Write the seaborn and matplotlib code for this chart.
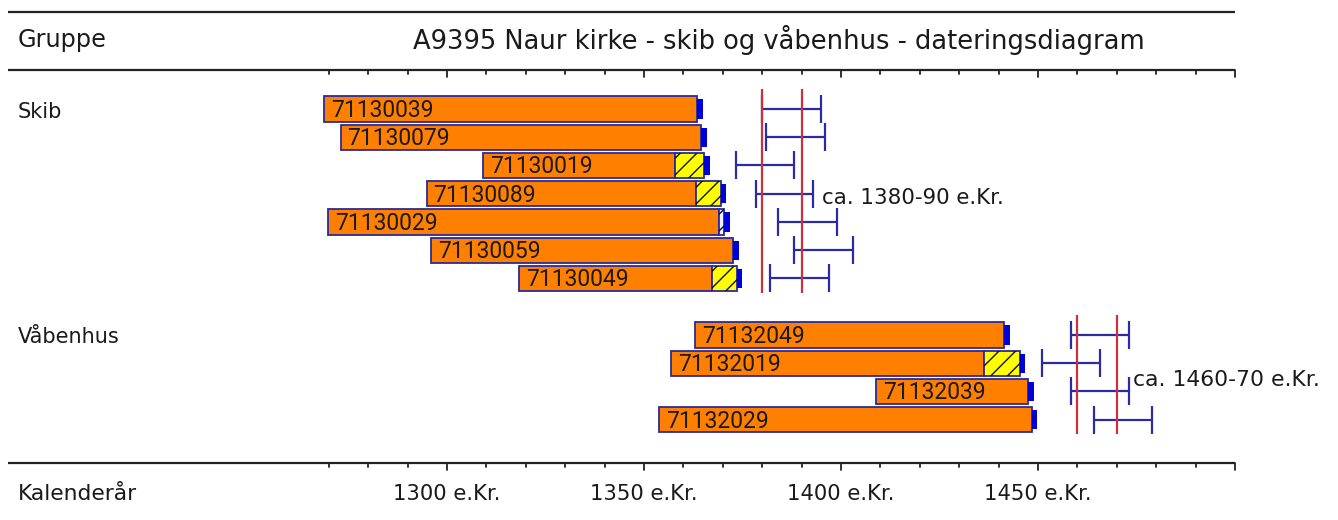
import numpy as np
import pandas as pd
import matplotlib
matplotlib.use("Agg")
import matplotlib.pyplot as plt
import matplotlib.transforms as mtrans
import seaborn as sns

sns.set_theme(style="white")
plt.rcParams["font.family"] = ["DejaVu Sans"]
plt.rcParams["hatch.linewidth"] = 1.0

# ---------------- data ----------------
TITLE = "A9395 Naur kirke - skib og våbenhus - dateringsdiagram"
HEAD_LEFT = "Gruppe"
AXIS_LABEL = "Kalenderår"

groups = ["Skib", "Våbenhus"]
group_sizes = [7, 4]

sample_ids = ["71130039", "71130079", "71130019", "71130089", "71130029",
              "71130059", "71130049",
              "71132049", "71132019", "71132039", "71132029"]
start_year = [1268.8, 1273.0, 1309.1, 1294.8, 1269.9, 1295.9, 1318.3,
              1362.9, 1356.9, 1408.8, 1353.8]
solid_end = [1363.5, 1364.5, 1357.9, 1363.1, 1369.1, 1372.7, 1367.2,
             1441.4, 1436.4, 1447.5, 1448.4]
sapwood_end = [1363.5, 1364.5, 1365.3, 1369.5, 1370.4, 1372.7, 1373.5,
               1441.4, 1445.4, 1447.5, 1448.4]
sapwood_class = ["none", "none", "est", "est", "thin", "none", "est",
                 "none", "est", "none", "none"]
felling_lo = [1380.0, 1381.0, 1373.3, 1378.3, 1384.0, 1388.0, 1382.0,
              1458.3, 1451.0, 1458.3, 1464.3]
felling_hi = [1395.0, 1396.0, 1388.0, 1393.0, 1399.0, 1403.0, 1397.0,
              1473.0, 1465.7, 1473.0, 1479.0]

group_date_lo = [1380, 1460]
group_date_hi = [1390, 1470]
group_date_text = ["ca. 1380-90 e.Kr.", "ca. 1460-70 e.Kr."]

tick_years = [1300, 1350, 1400, 1450]
tick_labels = ["1300 e.Kr.", "1350 e.Kr.", "1400 e.Kr.", "1450 e.Kr."]
axis_start, axis_end = 1270, 1500

# ---------------- layout ----------------
W, H = 1338, 520
PX_1300, PX_PER_YEAR = 447.0, 3.94
ROW0_PX, ROW_PX = 109.0, 28.25

ORANGE = "#FF8000"
EDGE = "#2A2A9A"
CAP = "#0000D8"
EBAR = "#2B2BA6"
RED = "#C8323C"
RULE = "#222222"

rows = []
r = 0
group_first_row = []
for n in group_sizes:
    group_first_row.append(r)
    rows.extend(range(r, r + n))
    r += n + 1
rows = np.array(rows, dtype=float)

df = pd.DataFrame({
    "id": sample_ids, "start": start_year, "solid_end": solid_end,
    "sap_end": sapwood_end, "sap": sapwood_class,
    "lo": felling_lo, "hi": felling_hi, "row": rows,
})

fig = plt.figure(figsize=(W / 100, H / 100), dpi=100)
ax = fig.add_axes([0, 0, 1, 1])
ax.set_xlim(1300 - PX_1300 / PX_PER_YEAR, 1300 + (W - PX_1300) / PX_PER_YEAR)
ax.set_ylim((H - ROW0_PX) / ROW_PX, -ROW0_PX / ROW_PX)
ax.set_axis_off()

PIX = mtrans.Affine2D().scale(1 / W, -1 / H).translate(0, 1) + fig.transFigure
XPIX = mtrans.blended_transform_factory(ax.transData, PIX)

# rules and ticks
for y in (12, 70, 463):
    ax.plot([8, 1235], [y, y], transform=PIX, color=RULE, lw=1.6,
            solid_capstyle="butt", clip_on=False)
for y in (70, 463):
    for yr in range(axis_start, axis_end + 1, 10):
        ln = 7 if yr % 50 == 0 else 4
        ax.plot([yr, yr], [y, y + ln], transform=XPIX, color=RULE, lw=1.3,
                clip_on=False)

# bars
BH = 0.9
ax.barh(df["row"], df["solid_end"] - df["start"], left=df["start"], height=BH,
        color=ORANGE, edgecolor=EDGE, linewidth=1.3, zorder=2)
sap = df[df["sap"] != "none"]
sap_colors = ["#FFFF00" if s == "est" else "#F2F2F2" for s in sap["sap"]]
ax.barh(sap["row"], sap["sap_end"] - sap["solid_end"], left=sap["solid_end"],
        height=BH, color=sap_colors, edgecolor=EDGE, linewidth=1.3, zorder=2)
ax.barh(sap["row"], sap["sap_end"] - sap["solid_end"], left=sap["solid_end"],
        height=BH, facecolor="none", edgecolor="#111111", linewidth=0,
        hatch="//", zorder=3)
ax.barh(df["row"], 1.4, left=df["sap_end"], height=0.68, color=CAP,
        linewidth=0, zorder=3)

lab_tr = mtrans.offset_copy(ax.transData, fig=fig, x=7, y=-8, units="dots")
for _, rw in df.iterrows():
    ax.text(rw["start"], rw["row"], rw["id"], transform=lab_tr,
            family="Roboto", fontsize=16.5, color="#1a1a1a",
            ha="left", va="baseline", zorder=4)

# felling date intervals
mid = (df["lo"] + df["hi"]) / 2
half = (df["hi"] - df["lo"]) / 2
ax.errorbar(mid, df["row"], xerr=half, fmt="none", ecolor=EBAR,
            elinewidth=1.6, capsize=10, capthick=1.6, zorder=2)

# group dating lines
for gi, g in enumerate(groups):
    r0 = group_first_row[gi]
    r1 = r0 + group_sizes[gi] - 1
    for yr in (group_date_lo[gi], group_date_hi[gi]):
        ax.vlines(yr, r0 - 0.7, r1 + 0.5, color=RED, lw=1.6, zorder=5)

# texts
def put(px, py, s, width=None, ha="left", tr=PIX, size=16):
    t = ax.text(px, py, s, transform=tr, ha=ha, va="center",
                color="#1a1a1a", fontsize=size)
    if width is not None:
        renderer = fig.canvas.get_renderer()
        bb = t.get_window_extent(renderer)
        t.set_fontsize(t.get_fontsize() * width / bb.width)
    return t

put(18, 40, HEAD_LEFT, 89)
put(779, 40, TITLE, 732, ha="center")
v = put(18, 337, groups[1], 102)
put(18, 112, groups[0], size=v.get_fontsize())
put(18, 494, AXIS_LABEL, 119)
for yr, lab in zip(tick_years, tick_labels):
    put(yr, 494, lab, 108, ha="center", tr=XPIX)
put(822, 198, group_date_text[0], 183)
put(1133, 380, group_date_text[1], 187)

fig.savefig("out.png", dpi=100)
